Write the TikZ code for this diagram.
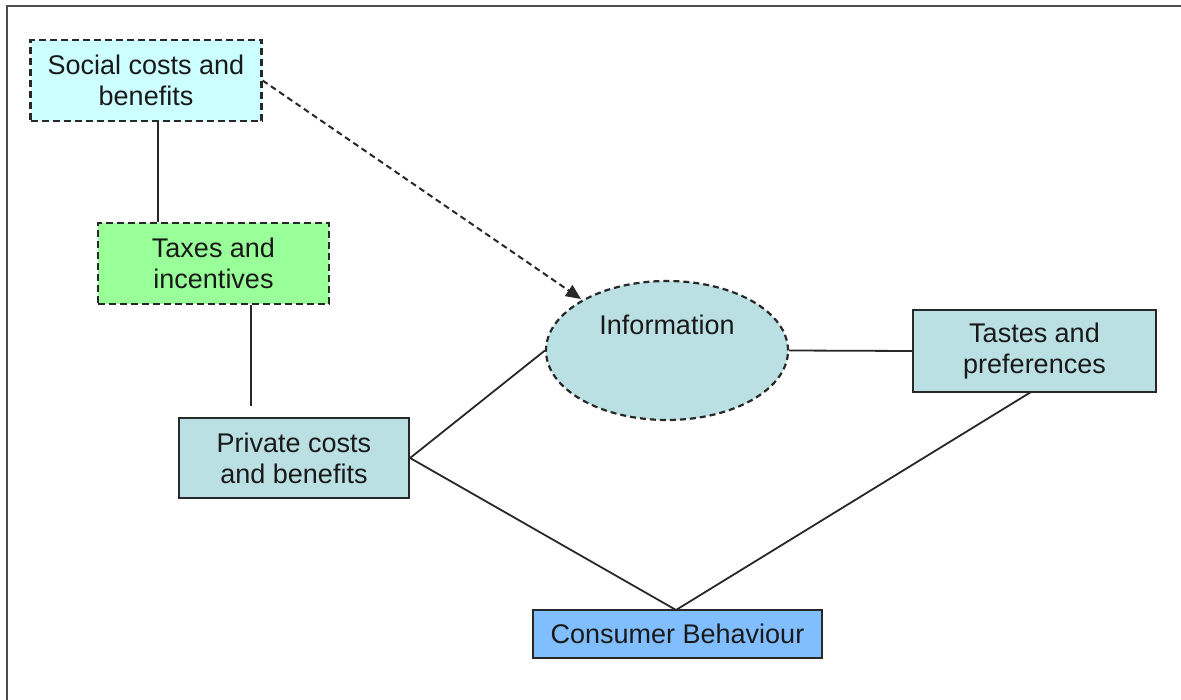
\documentclass[tikz,border=0pt]{standalone}
\usepackage{fontspec}
\setmainfont{Liberation Sans}
\usetikzlibrary{shapes.geometric,arrows.meta}
\definecolor{socialfill}{RGB}{204,255,255}
\definecolor{taxfill}{RGB}{153,255,153}
\definecolor{tealfill}{RGB}{186,224,228}
\definecolor{consfill}{RGB}{128,190,255}
\definecolor{edge}{RGB}{40,40,40}
\tikzset{
  label font/.style={font=\fontsize{27}{31}\selectfont, text=black!90},
  box/.style={draw=edge, line width=2.2pt, rectangle, inner sep=0pt, align=center, label font},
  dashbox/.style={box, dash pattern=on 7pt off 4pt},
  link/.style={draw=edge, line width=1.8pt},
}
\begin{document}
\begin{tikzpicture}[x=1pt,y=-1pt]
\useasboundingbox (0,0) rectangle (1181,700);
% outer frame (only top and left edges)
\draw[line width=1.8pt, draw=black!70] (7,700) -- (7,6) -- (1181,6);

\node[dashbox, fill=socialfill, minimum width=231pt, minimum height=81pt] (social) at (146,80.5)
  {Social costs and\\benefits};
\node[dashbox, fill=taxfill, minimum width=231pt, minimum height=81pt] (tax) at (213.5,263.5)
  {Taxes and\\incentives};
\node[box, fill=tealfill, minimum width=230pt, minimum height=80pt] (private) at (294,458)
  {Private costs\\and benefits};
\node[draw=edge, line width=2.2pt, dash pattern=on 6pt off 4pt, ellipse, fill=tealfill,
  minimum width=242pt, minimum height=139pt, inner sep=0pt] (info) at (667,350.5) {};
\node[label font] (infotext) at (667,325) {Information};
\node[box, fill=tealfill, minimum width=243pt, minimum height=82pt] (tastes) at (1034.5,351)
  {Tastes and\\preferences};
\node[box, fill=consfill, minimum width=289pt, minimum height=48pt] (consumer) at (677.5,634)
  {Consumer Behaviour};

\coordinate (socdown) at (158,121);
\coordinate (taxtop) at (158,223);
\coordinate (taxdown) at (251,304);
\coordinate (privtop) at (251,406);
\coordinate (conin) at (676,610);
\coordinate (tastesout) at (1031,392);
\coordinate (arrowtip) at (581,299);

\draw[link] (social.south -| socdown) -- (tax.north -| taxtop);
\draw[link] (tax.south -| taxdown) -- (privtop);
\draw[link] (private.east) -- (info.west);
\draw[link] (private.east) -- (conin);
\draw[link] (info.east) -- (tastes.west);
\draw[link] (tastesout) -- (conin);
\draw[draw=edge, line width=2pt, dash pattern=on 6pt off 4pt,
  -{Triangle[length=15pt,width=13pt]}] (social.east) -- (arrowtip);
\end{tikzpicture}
\end{document}
